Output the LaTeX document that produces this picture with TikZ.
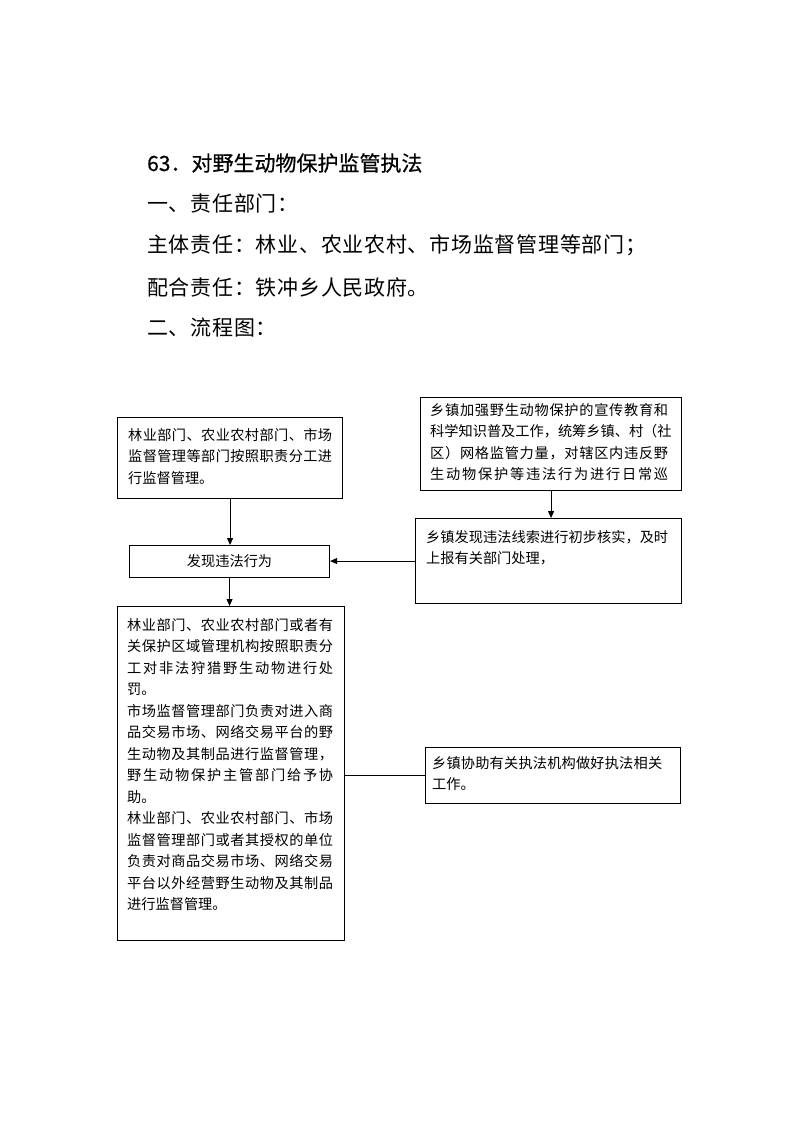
\documentclass[tikz,border=0pt]{standalone}
\usepackage{fontspec}
\setmainfont{Noto Sans CJK SC}
\usetikzlibrary{arrows.meta,calc}
\makeatletter
\newcommand\spl[2]{\makebox[#1][s]{\@tfor\mych:=#2\do{\mych\hfil}\unskip}}
\makeatother
\tikzset{
  frame/.style={draw, line width=1.1pt, anchor=north west, inner sep=0pt},
  boxtxt/.style={anchor=north west, inner sep=0pt, align=left, font=\fontsize{14.2}{21.5}\selectfont},
  head/.style={anchor=west, inner sep=0pt, font=\fontsize{21}{25}\selectfont\addfontfeature{LetterSpace=3.5}},
  arr/.style={line width=0.9pt, -{Triangle[length=7pt,width=6pt]}},
  conn/.style={line width=0.9pt}
}
\begin{document}
\begin{tikzpicture}[x=1pt,y=-1pt]
\path[use as bounding box, fill=white] (0,0) rectangle (793,1122);
% headings
\node[anchor=west, inner sep=0pt, font=\fontsize{21}{25}\selectfont\addfontfeature{FakeBold=0.6}] (h1) at (147,163) {63．对野生动物保护监管执法};
\node[head] (h2) at (147,203) {一、责任部门：};
\node[head] (h3) at (147,245) {主体责任：林业、农业农村、市场监督管理等部门；};
\node[head] (h4) at (147,287) {配合责任：铁冲乡人民政府。};
\node[head] (h5) at (147,328) {二、流程图：};
% boxes
\node[frame, minimum width=225pt, minimum height=81pt] (A) at (117,417) {};
\node[boxtxt] (tA) at (128,428) {\spl{204pt}{林业部门、农业农村部门、市场}\\\spl{204pt}{监督管理等部门按照职责分工进}\\行监督管理。};
\node[frame, minimum width=261pt, minimum height=93pt] (B) at (420,397) {};
\node[boxtxt] (tB) at (430,403) {\spl{238pt}{乡镇加强野生动物保护的宣传教育和}\\\spl{238pt}{科学知识普及工作，统筹乡镇、村（社}\\\spl{238pt}{区）网格监管力量，对辖区内违反野}\\\spl{238pt}{生动物保护等违法行为进行日常巡}};
\node[frame, minimum width=266pt, minimum height=85pt] (C) at (415,518) {};
\node[boxtxt] (tC) at (426,530) {\spl{242pt}{乡镇发现违法线索进行初步核实，及时}\\上报有关部门处理，};
\node[frame, minimum width=200pt, minimum height=32pt] (D) at (129,545) {};
\node[font=\fontsize{14.2}{21.5}\selectfont, inner sep=0pt] (tD) at (D.center) {发现违法行为};
\node[frame, minimum width=227pt, minimum height=334pt] (E) at (117,606) {};
\node[boxtxt] (tE) at (127,618) {\spl{206pt}{林业部门、农业农村部门或者有}\\\spl{206pt}{关保护区域管理机构按照职责分}\\\spl{206pt}{工对非法狩猎野生动物进行处}\\罚。\\\spl{206pt}{市场监督管理部门负责对进入商}\\\spl{206pt}{品交易市场、网络交易平台的野}\\\spl{206pt}{生动物及其制品进行监督管理，}\\\spl{206pt}{野生动物保护主管部门给予协}\\助。\\\spl{206pt}{林业部门、农业农村部门、市场}\\\spl{206pt}{监督管理部门或者其授权的单位}\\\spl{206pt}{负责对商品交易市场、网络交易}\\\spl{206pt}{平台以外经营野生动物及其制品}\\进行监督管理。};
\node[frame, minimum width=255pt, minimum height=56pt] (F) at (425,747) {};
\node[boxtxt] (tF) at (432,756) {\spl{230pt}{乡镇协助有关执法机构做好执法相关}\\工作。};
% connectors
\draw[arr] (A.south) -- (A.south |- D.north);
\draw[arr] (B.south) -- (B.south |- C.north);
\draw[arr] (C.west) -- (C.west -| D.east);
\draw[arr] (D.south) -- (D.south |- E.north);
\draw[conn] (F.west -| E.east) -- (F.west);
\end{tikzpicture}
\end{document}
